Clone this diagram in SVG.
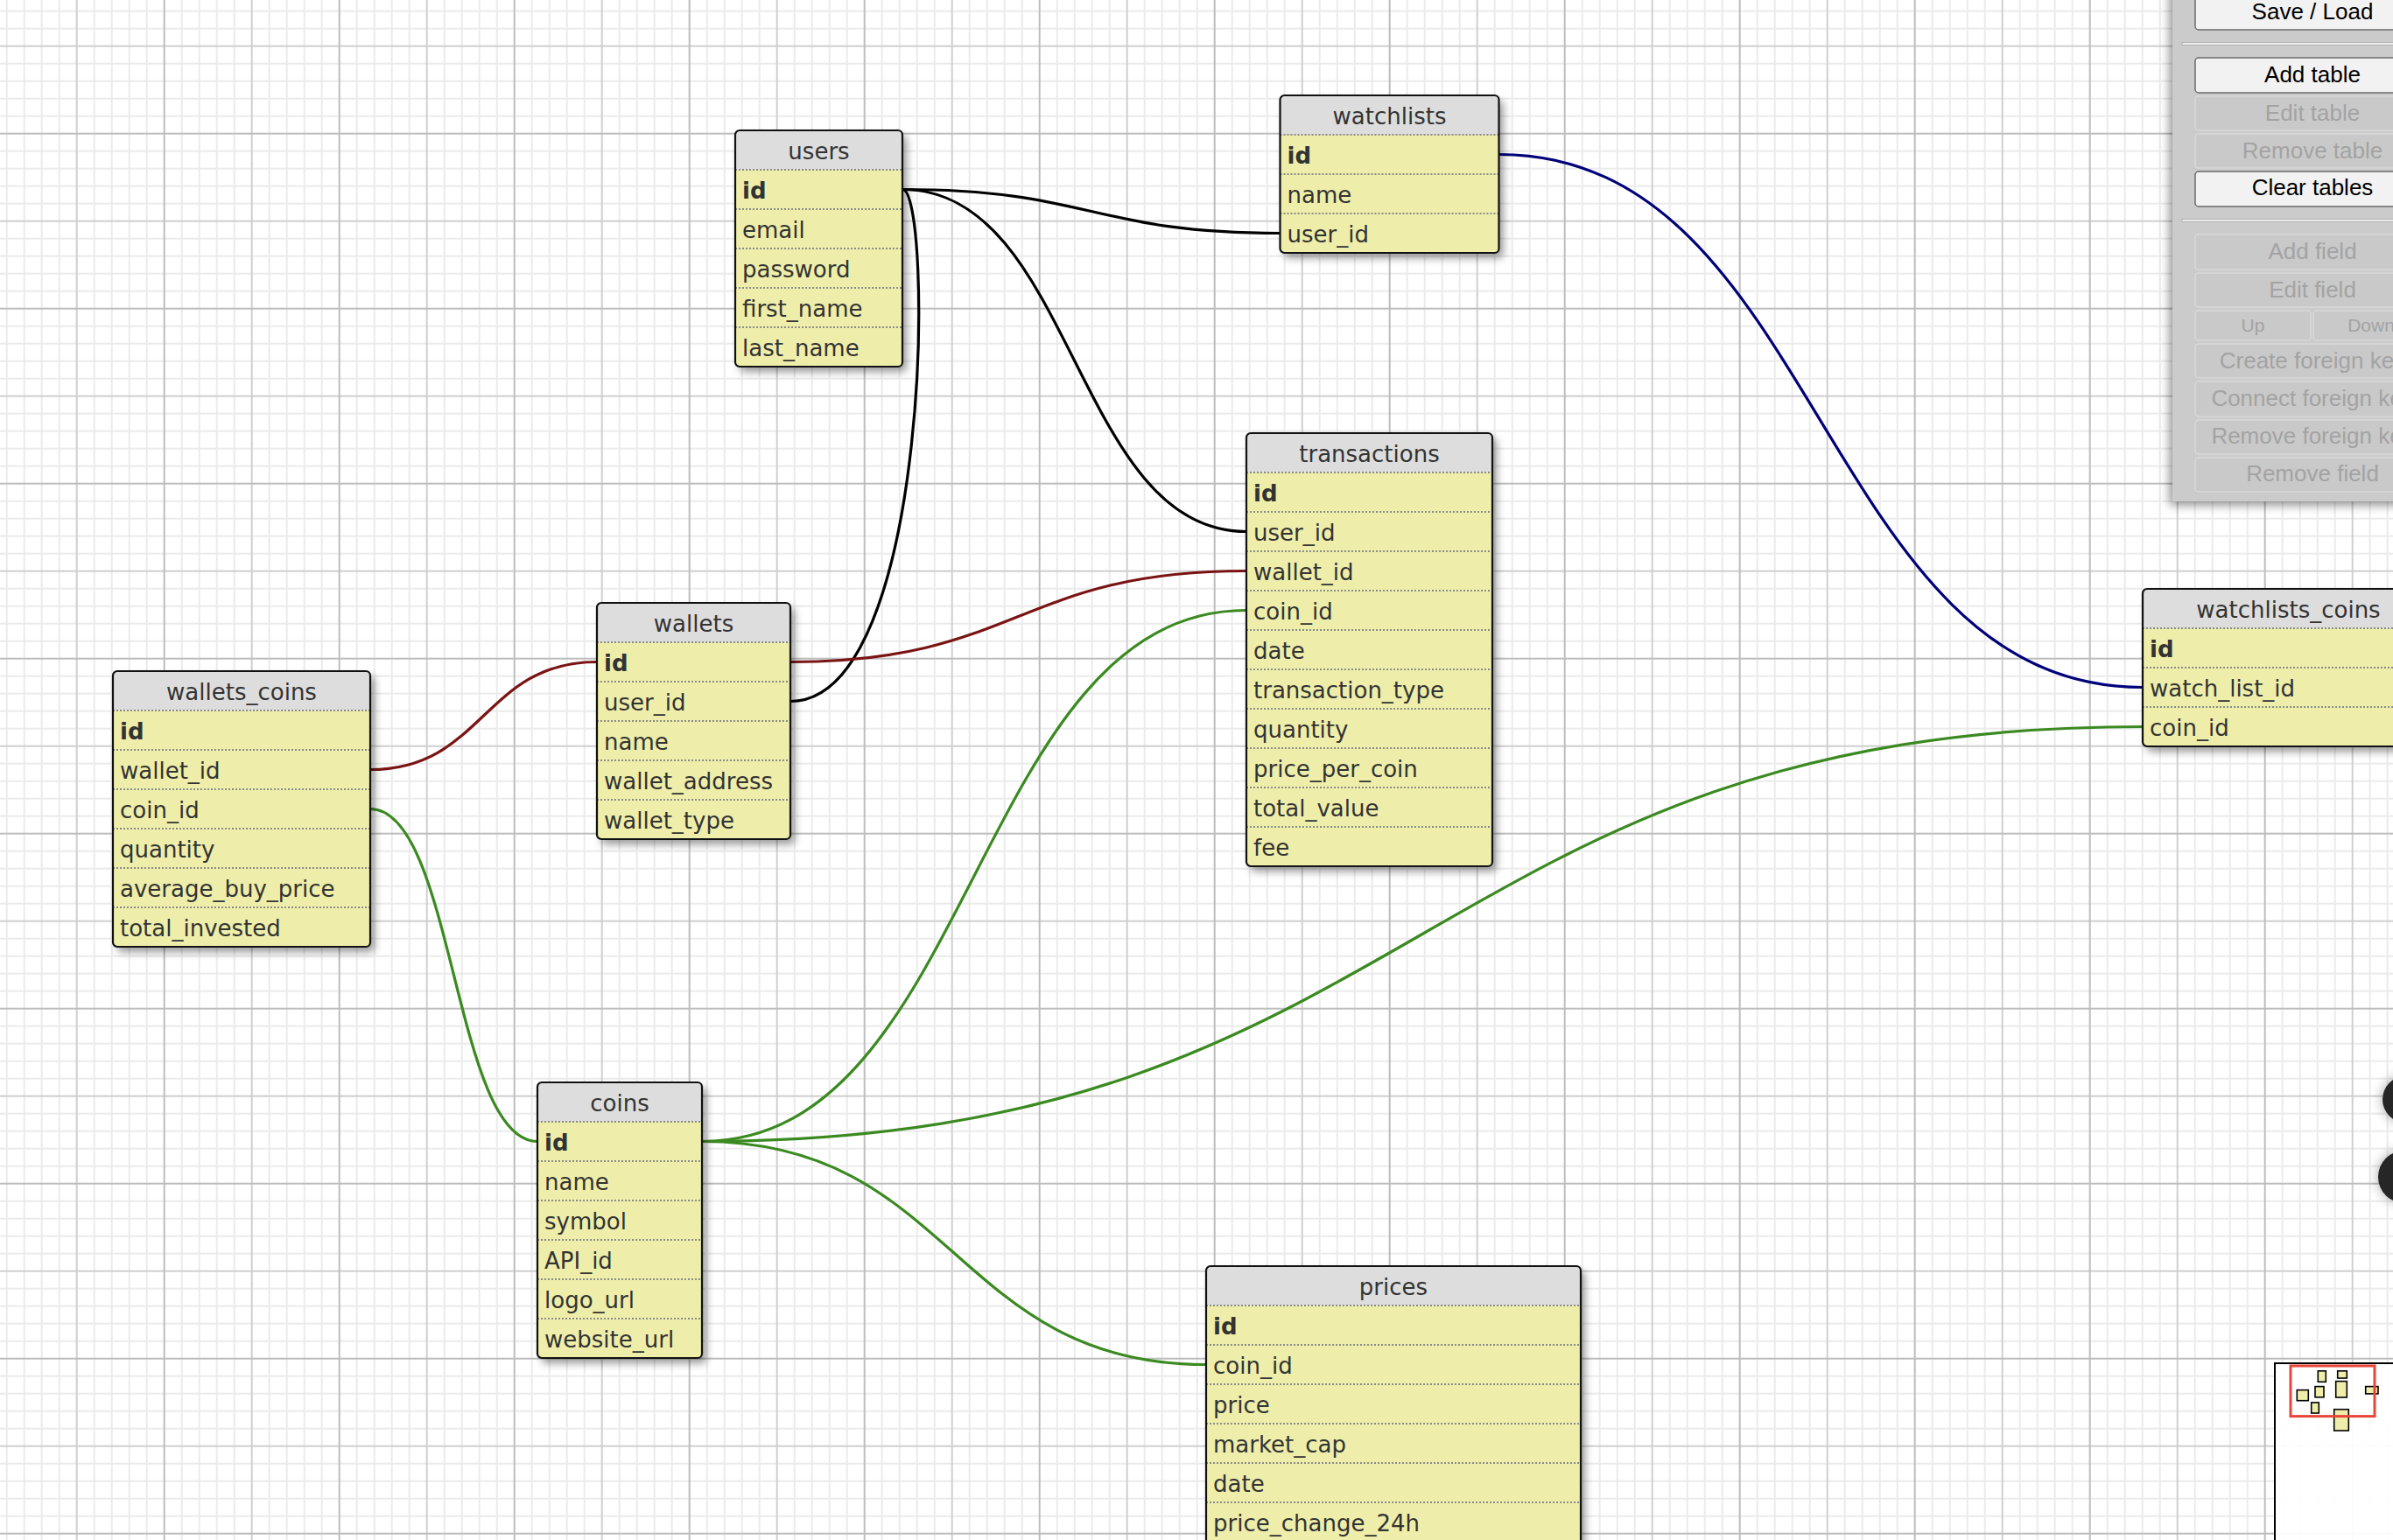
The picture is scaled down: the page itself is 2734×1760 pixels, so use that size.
<svg xmlns="http://www.w3.org/2000/svg" width="2734" height="1760" viewBox="0 0 2734 1760">
<defs>
<style>
.tb{fill:#eeeeaa}
.hd{fill:#dddddd}
.bd{fill:none;stroke:#111;stroke-width:2.2}
.sep{fill:none;stroke:#8a8a8a;stroke-width:2;stroke-dasharray:2 2}
.tt{font-family:"DejaVu Sans","Verdana",sans-serif;font-size:26px;fill:#333;text-anchor:middle}
.fd{font-family:"DejaVu Sans","Verdana",sans-serif;font-size:26px;fill:#333}
.pk{font-weight:bold}
.cn{fill:none;stroke-width:3.2}
.blk{stroke:#000}
.red{stroke:#7a1414}
.grn{stroke:#3b8a21}
.nav{stroke:#00007a}
.btn{fill:#f2f2f2;stroke:#6a6a6a;stroke-width:1.5}
.dis{fill:#c9c9c9;stroke:#d9d9d9;stroke-width:1.5}
.bt{font-family:"Liberation Sans",Arial,sans-serif;font-size:26px;fill:#000;text-anchor:middle}
.bt.off{fill:#a3a3a3}
.mt{fill:#eeeeaa;stroke:#000;stroke-width:1.6}
</style>
<pattern id="grid" x="-12.3" y="-47.3" width="200" height="200" patternUnits="userSpaceOnUse">
<rect width="200" height="200" fill="#fff"/>
<path d="M20 0V200M40 0V200M60 0V200M80 0V200M120 0V200M140 0V200M160 0V200M180 0V200M0 20H200M0 40H200M0 60H200M0 80H200M0 120H200M0 140H200M0 160H200M0 180H200" stroke="#ebebeb" stroke-width="2"/>
<path d="M100 0V200M0 100H200" stroke="#cfcfcf" stroke-width="2"/>
<path d="M0 0V200M200 0V200M0 0H200M0 200H200" stroke="#bdbdbd" stroke-width="2"/>
</pattern>
<filter id="sh" x="-20%" y="-20%" width="140%" height="140%">
<feDropShadow dx="5" dy="6" stdDeviation="5" flood-color="#000" flood-opacity="0.4"/>
</filter>
<filter id="psh" x="-20%" y="-20%" width="140%" height="140%">
<feDropShadow dx="-3" dy="4" stdDeviation="6" flood-color="#000" flood-opacity="0.45"/>
</filter>
<filter id="csh" x="-50%" y="-50%" width="200%" height="200%">
<feDropShadow dx="0" dy="0" stdDeviation="7" flood-color="#000" flood-opacity="0.35"/>
</filter>
</defs>

<rect id="background" width="2734" height="1760" fill="url(#grid)"/>

<g id="connectors">
<path class="cn blk" d="M1031 216.5C1246.75 216.5 1246.75 266.5 1462.5 266.5"/>
<path class="cn blk" d="M1031 216.5C1227.5 216.5 1227.5 607.5 1424 607.5"/>
<path class="cn blk" d="M1031 216.5C1066 216.5 1066 801.5 903 801.5"/>
<path class="cn red" d="M423 879.5C552.5 879.5 552.5 756.5 682 756.5"/>
<path class="cn red" d="M903 756.5C1163.5 756.5 1163.5 652.5 1424 652.5"/>
<path class="cn grn" d="M423 924.5C518.5 924.5 518.5 1304.5 614 1304.5"/>
<path class="cn grn" d="M802 1304.5C1113 1304.5 1113 697.5 1424 697.5"/>
<path class="cn grn" d="M802 1304.5C1625 1304.5 1625 830.5 2448 830.5"/>
<path class="cn grn" d="M802 1304.5C1090 1304.5 1090 1559.5 1378 1559.5"/>
<path class="cn nav" d="M1712.5 176.5C2080 176.5 2080 785.5 2448 785.5"/>
</g>

<g id="users" transform="translate(840,149)">
<rect class="tb" width="191" height="270" rx="5" filter="url(#sh)"/>
<path class="hd" d="M0 45V5a5 5 0 0 1 5-5h181a5 5 0 0 1 5 5v40z"/>
<path class="sep" d="M0 45H191M0 90H191M0 135H191M0 180H191M0 225H191"/>
<rect class="bd" width="191" height="270" rx="5"/>
<text class="tt" x="95.5" y="32.5">users</text>
<text class="fd pk" x="8" y="77.5">id</text>
<text class="fd" x="8" y="122.5">email</text>
<text class="fd" x="8" y="167.5">password</text>
<text class="fd" x="8" y="212.5">first_name</text>
<text class="fd" x="8" y="257.5">last_name</text>
</g>

<g id="watchlists" transform="translate(1462.5,109)">
<rect class="tb" width="250" height="180" rx="5" filter="url(#sh)"/>
<path class="hd" d="M0 45V5a5 5 0 0 1 5-5h240a5 5 0 0 1 5 5v40z"/>
<path class="sep" d="M0 45H250M0 90H250M0 135H250"/>
<rect class="bd" width="250" height="180" rx="5"/>
<text class="tt" x="125" y="32.5">watchlists</text>
<text class="fd pk" x="8" y="77.5">id</text>
<text class="fd" x="8" y="122.5">name</text>
<text class="fd" x="8" y="167.5">user_id</text>
</g>

<g id="transactions" transform="translate(1424,495)">
<rect class="tb" width="281" height="495" rx="5" filter="url(#sh)"/>
<path class="hd" d="M0 45V5a5 5 0 0 1 5-5h271a5 5 0 0 1 5 5v40z"/>
<path class="sep" d="M0 45H281M0 90H281M0 135H281M0 180H281M0 225H281M0 270H281M0 315H281M0 360H281M0 405H281M0 450H281"/>
<rect class="bd" width="281" height="495" rx="5"/>
<text class="tt" x="140.5" y="32.5">transactions</text>
<text class="fd pk" x="8" y="77.5">id</text>
<text class="fd" x="8" y="122.5">user_id</text>
<text class="fd" x="8" y="167.5">wallet_id</text>
<text class="fd" x="8" y="212.5">coin_id</text>
<text class="fd" x="8" y="257.5">date</text>
<text class="fd" x="8" y="302.5">transaction_type</text>
<text class="fd" x="8" y="347.5">quantity</text>
<text class="fd" x="8" y="392.5">price_per_coin</text>
<text class="fd" x="8" y="437.5">total_value</text>
<text class="fd" x="8" y="482.5">fee</text>
</g>

<g id="wallets" transform="translate(682,689)">
<rect class="tb" width="221" height="270" rx="5" filter="url(#sh)"/>
<path class="hd" d="M0 45V5a5 5 0 0 1 5-5h211a5 5 0 0 1 5 5v40z"/>
<path class="sep" d="M0 45H221M0 90H221M0 135H221M0 180H221M0 225H221"/>
<rect class="bd" width="221" height="270" rx="5"/>
<text class="tt" x="110.5" y="32.5">wallets</text>
<text class="fd pk" x="8" y="77.5">id</text>
<text class="fd" x="8" y="122.5">user_id</text>
<text class="fd" x="8" y="167.5">name</text>
<text class="fd" x="8" y="212.5">wallet_address</text>
<text class="fd" x="8" y="257.5">wallet_type</text>
</g>

<g id="wallets_coins" transform="translate(129,767)">
<rect class="tb" width="294" height="315" rx="5" filter="url(#sh)"/>
<path class="hd" d="M0 45V5a5 5 0 0 1 5-5h284a5 5 0 0 1 5 5v40z"/>
<path class="sep" d="M0 45H294M0 90H294M0 135H294M0 180H294M0 225H294M0 270H294"/>
<rect class="bd" width="294" height="315" rx="5"/>
<text class="tt" x="147" y="32.5">wallets_coins</text>
<text class="fd pk" x="8" y="77.5">id</text>
<text class="fd" x="8" y="122.5">wallet_id</text>
<text class="fd" x="8" y="167.5">coin_id</text>
<text class="fd" x="8" y="212.5">quantity</text>
<text class="fd" x="8" y="257.5">average_buy_price</text>
<text class="fd" x="8" y="302.5">total_invested</text>
</g>

<g id="coins" transform="translate(614,1237)">
<rect class="tb" width="188" height="315" rx="5" filter="url(#sh)"/>
<path class="hd" d="M0 45V5a5 5 0 0 1 5-5h178a5 5 0 0 1 5 5v40z"/>
<path class="sep" d="M0 45H188M0 90H188M0 135H188M0 180H188M0 225H188M0 270H188"/>
<rect class="bd" width="188" height="315" rx="5"/>
<text class="tt" x="94" y="32.5">coins</text>
<text class="fd pk" x="8" y="77.5">id</text>
<text class="fd" x="8" y="122.5">name</text>
<text class="fd" x="8" y="167.5">symbol</text>
<text class="fd" x="8" y="212.5">API_id</text>
<text class="fd" x="8" y="257.5">logo_url</text>
<text class="fd" x="8" y="302.5">website_url</text>
</g>

<g id="prices" transform="translate(1378,1447)">
<rect class="tb" width="428" height="360" rx="5" filter="url(#sh)"/>
<path class="hd" d="M0 45V5a5 5 0 0 1 5-5h418a5 5 0 0 1 5 5v40z"/>
<path class="sep" d="M0 45H428M0 90H428M0 135H428M0 180H428M0 225H428M0 270H428"/>
<rect class="bd" width="428" height="360" rx="5"/>
<text class="tt" x="214" y="32.5">prices</text>
<text class="fd pk" x="8" y="77.5">id</text>
<text class="fd" x="8" y="122.5">coin_id</text>
<text class="fd" x="8" y="167.5">price</text>
<text class="fd" x="8" y="212.5">market_cap</text>
<text class="fd" x="8" y="257.5">date</text>
<text class="fd" x="8" y="302.5">price_change_24h</text>
</g>

<g id="watchlists_coins" transform="translate(2448,673)">
<rect class="tb" width="333" height="180" rx="5" filter="url(#sh)"/>
<path class="hd" d="M0 45V5a5 5 0 0 1 5-5h323a5 5 0 0 1 5 5v40z"/>
<path class="sep" d="M0 45H333M0 90H333M0 135H333"/>
<rect class="bd" width="333" height="180" rx="5"/>
<text class="tt" x="166.5" y="32.5">watchlists_coins</text>
<text class="fd pk" x="8" y="77.5">id</text>
<text class="fd" x="8" y="122.5">watch_list_id</text>
<text class="fd" x="8" y="167.5">coin_id</text>
</g>

<g id="toolbar">
<rect x="2482" y="-20" width="300" height="593" fill="#cbcbcb" filter="url(#psh)"/>
<rect x="2508" y="-8" width="267" height="42" rx="4" class="btn"/>
<text class="bt" x="2642" y="22">Save / Load</text>
<rect x="2493" y="48.5" width="300" height="3" fill="#ececec" stroke="#a9a9a9" stroke-width="0.8"/>
<rect x="2508" y="66" width="267" height="40" rx="4" class="btn"/>
<text class="bt" x="2642" y="94">Add table</text>
<rect x="2508" y="110" width="267" height="39" rx="4" class="dis"/>
<text class="bt off" x="2642" y="138">Edit table</text>
<rect x="2508" y="153" width="267" height="39" rx="4" class="dis"/>
<text class="bt off" x="2642" y="181">Remove table</text>
<rect x="2508" y="196" width="267" height="40" rx="4" class="btn"/>
<text class="bt" x="2642" y="223">Clear tables</text>
<rect x="2493" y="250.5" width="300" height="3" fill="#ececec" stroke="#a9a9a9" stroke-width="0.8"/>
<rect x="2508" y="268" width="267" height="40" rx="4" class="dis"/>
<text class="bt off" x="2642" y="296">Add field</text>
<rect x="2508" y="312" width="267" height="39" rx="4" class="dis"/>
<text class="bt off" x="2642" y="340">Edit field</text>
<rect x="2508" y="355" width="132" height="34" rx="4" class="dis"/>
<text class="bt off" x="2574" y="379" style="font-size:21px">Up</text>
<rect x="2643" y="355" width="132" height="34" rx="4" class="dis"/>
<text class="bt off" x="2709" y="379" style="font-size:21px">Down</text>
<rect x="2508" y="393" width="267" height="39" rx="4" class="dis"/>
<text class="bt off" x="2642" y="421">Create foreign key</text>
<rect x="2508" y="436" width="267" height="40" rx="4" class="dis"/>
<text class="bt off" x="2642" y="464">Connect foreign key</text>
<rect x="2508" y="480" width="267" height="39" rx="4" class="dis"/>
<text class="bt off" x="2642" y="507">Remove foreign key</text>
<rect x="2508" y="523" width="267" height="39" rx="4" class="dis"/>
<text class="bt off" x="2642" y="550">Remove field</text>
</g>

<g id="zoom_controls">
<circle cx="2749" cy="1256.5" r="27" fill="#262626" filter="url(#csh)"/>
<circle cx="2747" cy="1345" r="30" fill="#262626" filter="url(#csh)"/>
</g>

<g id="minimap">
<rect x="2599" y="1558" width="200" height="250" fill="#fff" fill-opacity="0.92" stroke="#000" stroke-width="2"/>
<rect class="mt" x="2648.3" y="1566.8" width="9" height="12.5"/>
<rect class="mt" x="2670.7" y="1566.8" width="10.6" height="8.2"/>
<rect class="mt" x="2624.3" y="1588.6" width="13" height="12.1"/>
<rect class="mt" x="2645" y="1584.6" width="10" height="12.2"/>
<rect class="mt" x="2668.7" y="1578.6" width="12.6" height="18.4"/>
<rect class="mt" x="2702.7" y="1584.6" width="14.3" height="8.3"/>
<rect class="mt" x="2640.7" y="1602.9" width="8.6" height="12.1"/>
<rect class="mt" x="2666.7" y="1610.7" width="16.6" height="24.3"/>
<rect x="2617" y="1561" width="96" height="57.6" fill="none" stroke="#e8463a" stroke-width="3"/>
</g>
</svg>
